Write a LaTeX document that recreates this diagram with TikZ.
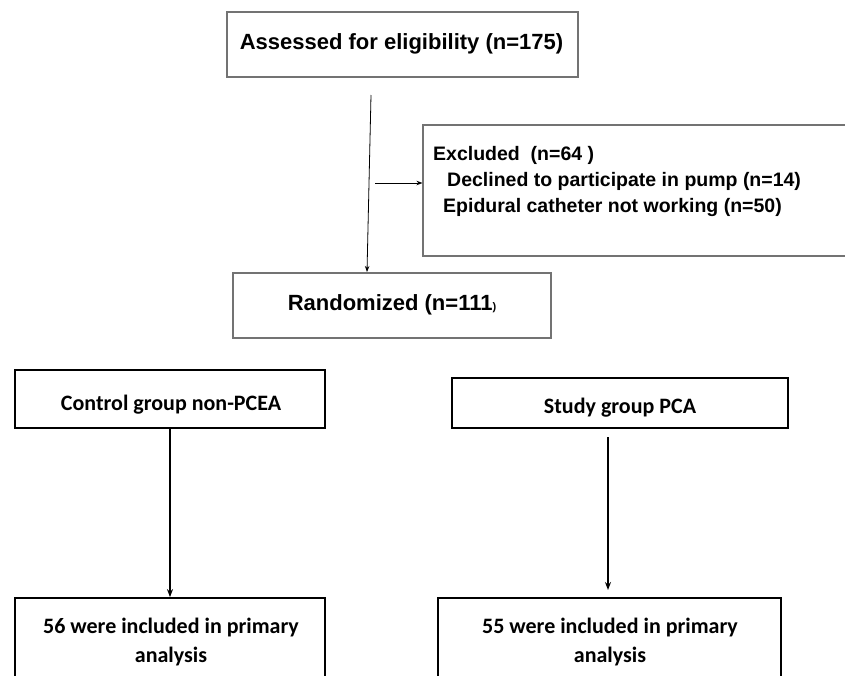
\documentclass[tikz,border=0pt]{standalone}
\usepackage{fontspec}
\setmainfont{Liberation Sans}
\newfontfamily\calfont{Carlito}
\usetikzlibrary{arrows.meta}
\begin{document}
\begin{tikzpicture}[x=1pt,y=-1pt,
  upbox/.style={draw=black!55, line width=1.1pt, inner sep=0pt},
  lowbox/.style={draw=black, line width=1.8pt, inner sep=0pt},
  uptext/.style={inner sep=0pt, font=\fontsize{22}{26}\selectfont\bfseries},
  extext/.style={inner sep=0pt, anchor=base west, font=\fontsize{19.5}{23}\selectfont\bfseries},
  lowtext/.style={inner sep=0pt, anchor=base, font=\calfont\fontsize{22}{29}\selectfont\bfseries},
  uparr/.style={line width=0.8pt, -{Stealth[length=6pt,width=4.5pt]}},
  lowarr/.style={line width=1.3pt, -{Stealth[length=8pt,width=6pt]}}]
\useasboundingbox (0,0) rectangle (845,675);

% boxes
\node[upbox, minimum width=351pt, minimum height=65pt] (assess) at (402.5,44.5) {};
\node[upbox, minimum width=427pt, minimum height=131pt] (excl) at (636.5,190.5) {};
\node[upbox, minimum width=318pt, minimum height=65pt] (rand) at (392,305.5) {};
\node[lowbox, minimum width=310pt, minimum height=58pt] (ctrl) at (170,399) {};
\node[lowbox, minimum width=336pt, minimum height=50pt] (study) at (620,403) {};
\node[lowbox, minimum width=310pt, minimum height=110pt] (bl) at (170,653) {};
\node[lowbox, minimum width=343pt, minimum height=110pt] (br) at (609.5,653) {};

% texts
\node[uptext, anchor=base] (assessT) at (401.5,49) {Assessed for eligibility (n=175)};
\node[extext] (exT1) at (433,160) {Excluded\ \ (n=64 )};
\node[extext] (exT2) at (447,186) {Declined to participate in pump (n=14)};
\node[extext] (exT3) at (443,212) {Epidural catheter not working (n=50)};
\node[uptext, anchor=base] (randT) at (392,310) {Randomized (n=111{\fontsize{11}{12}\selectfont )}};
\node[lowtext] (ctrlT) at (171,410) {Control group non-PCEA};
\node[lowtext] (studyT) at (620,413) {Study group PCA};
\node[lowtext] (blT1) at (171,633) {56 were included in primary};
\node[lowtext] (blT2) at (171,662) {analysis};
\node[lowtext] (brT1) at (610,633) {55 were included in primary};
\node[lowtext] (brT2) at (610,662) {analysis};

% connectors
\coordinate (mainStart) at (371,95);
\coordinate (mainEnd) at (367,272);
\draw[uparr] (mainStart) -- (mainEnd);
\coordinate (exStart) at (375,183);
\draw[uparr] (exStart) -- (exStart -| excl.west);
\draw[lowarr] (ctrl.south) -- (bl.north);
\coordinate (sStart) at (608,437);
\coordinate (sEnd) at (608,590);
\draw[lowarr] (sStart) -- (sEnd);
\end{tikzpicture}
\end{document}
